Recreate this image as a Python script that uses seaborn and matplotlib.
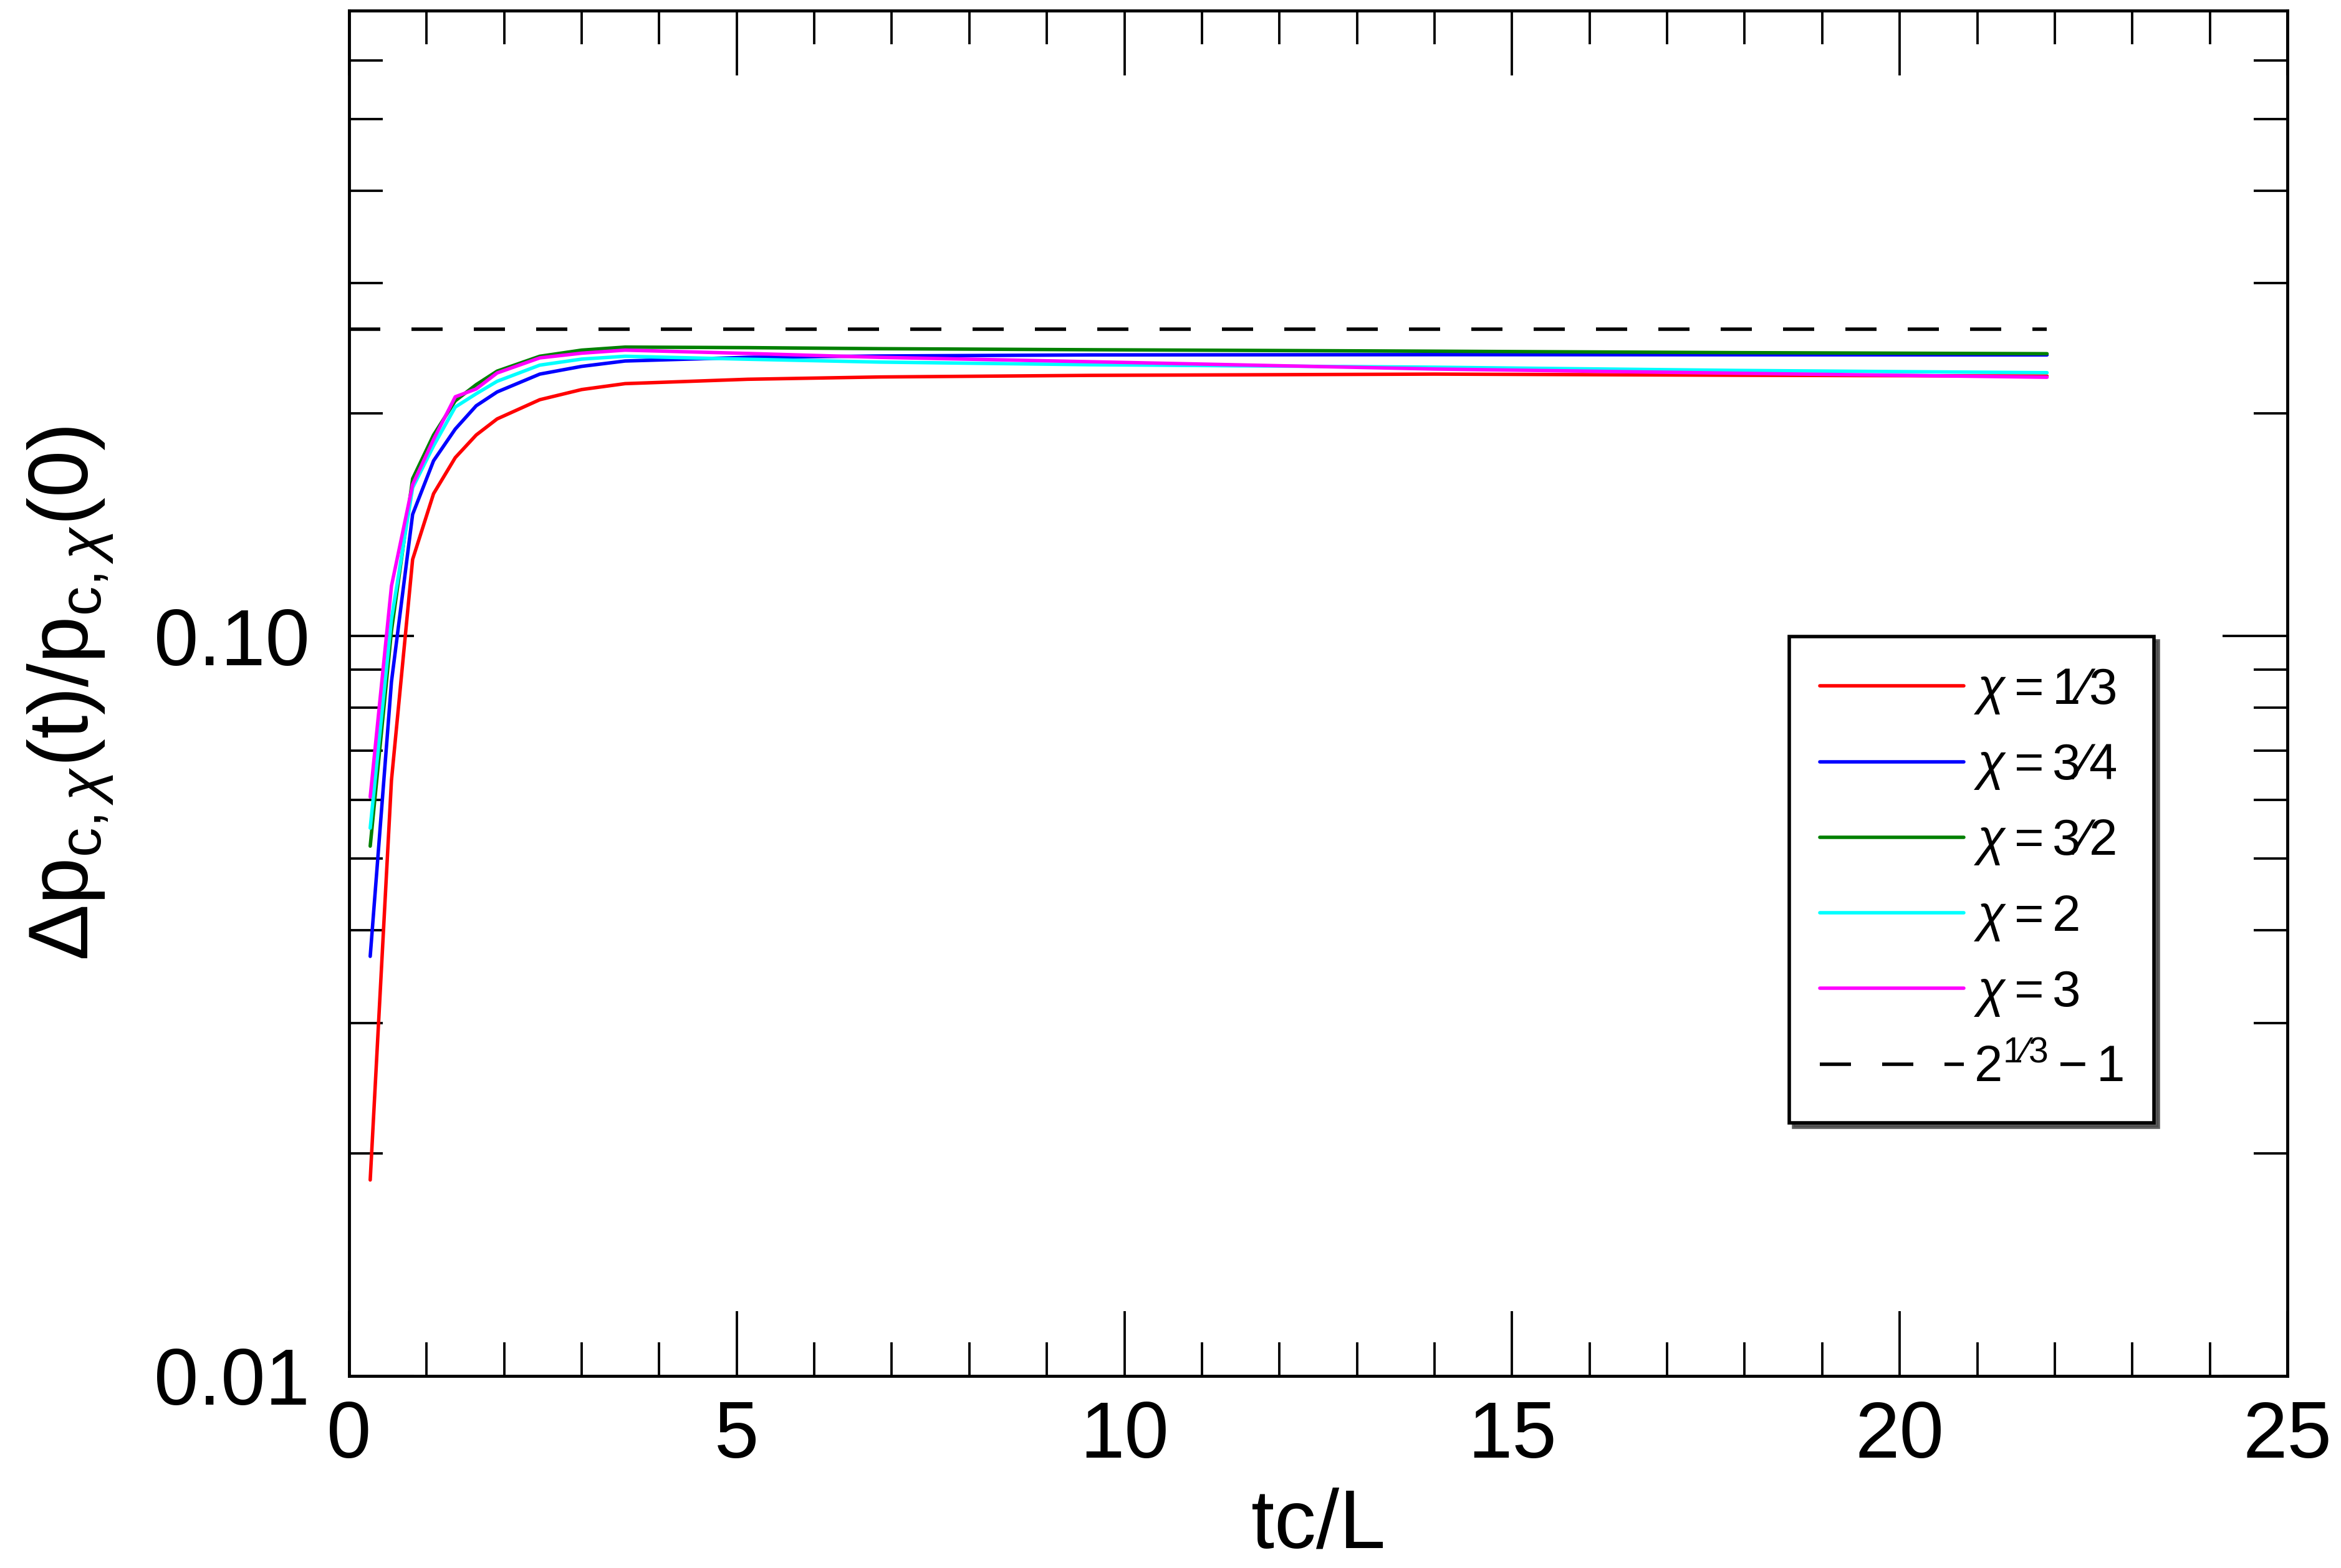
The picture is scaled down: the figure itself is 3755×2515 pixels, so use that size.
import numpy as np
import pandas as pd
import matplotlib
matplotlib.use('Agg')
import matplotlib.pyplot as plt
import seaborn as sns
from matplotlib.ticker import FixedLocator, FixedFormatter, MultipleLocator, NullFormatter

# 数据
tc_L = [0.273, 0.547, 0.82, 1.09, 1.37, 1.64, 1.91, 2.46, 3.0, 3.56,
        5.14, 6.85, 9.55, 14.0, 17.9, 21.9]
chi_1_3 = [0.0184, 0.0638, 0.1269, 0.1557, 0.1742, 0.1869, 0.1965, 0.2086, 0.2153, 0.2193,
           0.2223, 0.2239, 0.2250, 0.2259, 0.2251, 0.2245]
chi_3_4 = [0.0369, 0.0867, 0.1460, 0.1725, 0.1904, 0.2047, 0.2137, 0.2259, 0.2314, 0.2353,
           0.2380, 0.2390, 0.2398, 0.2400, 0.2399, 0.2398]
chi_3_2 = [0.0520, 0.1016, 0.1631, 0.1869, 0.2079, 0.2186, 0.2280, 0.2388, 0.2434, 0.2457,
           0.2453, 0.2445, 0.2437, 0.2426, 0.2415, 0.2407]
chi_2 = [0.0550, 0.1054, 0.1586, 0.1807, 0.2039, 0.2125, 0.2209, 0.2323, 0.2367, 0.2388,
         0.2366, 0.2345, 0.2326, 0.2308, 0.2285, 0.2269]
chi_3 = [0.0606, 0.1168, 0.1602, 0.1843, 0.2105, 0.2157, 0.2267, 0.2376, 0.2411, 0.2434,
         0.2409, 0.2380, 0.2348, 0.2295, 0.2265, 0.2237]
limit_x = [0.0, 21.9]
limit_val = 2 ** (1 / 3) - 1

labels = [r'$\chi=$1⁄3', r'$\chi=$3⁄4', r'$\chi=$3⁄2', r'$\chi=$2', r'$\chi=$3']
colors = ['#ff0000', '#0000ff', '#008000', '#00ffff', '#ff00ff']
series = [chi_1_3, chi_3_4, chi_3_2, chi_2, chi_3]

sns.set_theme(style='ticks')
plt.rcParams['font.family'] = ['Liberation Sans', 'DejaVu Sans']
plt.rcParams['mathtext.fontset'] = 'custom'
plt.rcParams['mathtext.rm'] = 'Liberation Sans'
plt.rcParams['mathtext.it'] = 'Liberation Sans:italic'
plt.rcParams['mathtext.bf'] = 'Liberation Sans:bold'
for key in ['text.color', 'axes.labelcolor', 'xtick.color', 'ytick.color', 'axes.edgecolor']:
    plt.rcParams[key] = 'black'

fig = plt.figure(figsize=(3755 / 250, 2515 / 250), dpi=250)
ax = fig.add_axes([0.1491, 0.1225, 0.8280, 0.8707])

for vals, lab, col in zip(series, labels, colors):
    df = pd.DataFrame({'tc/L': tc_L, 'val': vals})
    sns.lineplot(data=df, x='tc/L', y='val', color=col, lw=1.6, label=lab, ax=ax)

ax.plot(limit_x, [limit_val, limit_val], color='black', lw=1.6, dashes=(9, 9),
        label=r'$2^{1⁄3}-1$')

ax.set_yscale('log')
ax.set_xlim(0, 25)
ax.set_ylim(0.01, 0.7)

ax.xaxis.set_major_locator(MultipleLocator(5))
ax.xaxis.set_minor_locator(MultipleLocator(1))
ax.yaxis.set_major_locator(FixedLocator([0.01, 0.1]))
ax.yaxis.set_major_formatter(FixedFormatter(['0.01', '0.10']))
ax.yaxis.set_minor_locator(FixedLocator([0.02, 0.03, 0.04, 0.05, 0.06, 0.07, 0.08, 0.09,
                                         0.2, 0.3, 0.4, 0.5, 0.6]))
ax.yaxis.set_minor_formatter(NullFormatter())

ax.tick_params(which='both', direction='in', top=True, right=True, width=1.1, color='black')
ax.tick_params(which='major', length=30, labelsize=37, pad=11)
ax.tick_params(which='minor', length=15.5)
ax.tick_params(axis='y', which='major', pad=18)
for sp in ax.spines.values():
    sp.set_linewidth(1.4)
    sp.set_color('black')

ax.set_xlabel('tc/L', fontsize=38.5, labelpad=6)
ax.set_ylabel(r'$\Delta \mathrm{p}_{\mathrm{c},\chi}\mathrm{(t)/p}_{\mathrm{c},\chi}\mathrm{(0)}$',
              fontsize=39, labelpad=18)

leg = ax.legend(loc='upper left', bbox_to_anchor=(0.743, 0.5416), borderaxespad=0,
                fontsize=23.5, frameon=True, fancybox=False, framealpha=1,
                edgecolor='black', handlelength=2.83, handletextpad=0.2,
                labelspacing=0.53, borderpad=0.6,
                shadow={'color': '0.3', 'alpha': 0.9})
leg.get_frame().set_linewidth(1.6)

plt.savefig('out.png', dpi=250)
plt.close()
